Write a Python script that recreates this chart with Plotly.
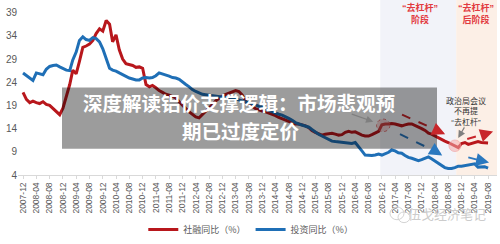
import plotly.graph_objects as go
import pandas as pd

# ---------------- data ----------------
months = pd.date_range("2007-12-01", periods=141, freq="MS")

shrong = (  # 社融同比（%）
    [21.8]
    + [20.3, 19.6, 19.9, 19.6, 19.4, 19.8, 19.2, 19.0, 18.3, 17.6, 17.0, 18.4]   # 2008
    + [20.8, 23.5, 26.6, 25.8, 28.5, 31.5, 31.8, 32.2, 33.0, 34.5, 35.5, 35.0]   # 2009
    + [37.3, 36.5, 32.7, 34.2, 31.0, 29.0, 28.0, 27.8, 27.6, 27.2, 27.3, 27.0]   # 2010
    + [23.5, 23.0, 23.3, 22.8, 22.2, 21.8, 21.4, 21.2, 20.9, 20.6, 19.8, 19.0]   # 2011
    + [18.3, 17.6, 17.0, 16.5, 16.3, 17.0, 17.6, 18.3, 19.2, 20.0, 20.6, 21.0]   # 2012
    + [21.4, 21.7, 22.0, 22.2, 22.0, 21.2, 19.8, 19.2, 18.8, 18.3, 18.0, 17.8]   # 2013
    + [17.6, 17.3, 17.2, 16.8, 16.4, 16.1, 15.8, 15.5, 15.2, 15.0, 15.0, 14.8]   # 2014
    + [14.6, 14.2, 13.6, 13.2, 12.9, 12.6, 12.8, 12.9, 13.0, 12.8, 12.6, 12.7]   # 2015
    + [13.2, 13.4, 13.2, 13.3, 12.9, 12.6, 12.4, 12.4, 12.7, 13.0, 13.4, 14.8]   # 2016
    + [15.0, 15.0, 15.1, 15.0, 14.8, 14.6, 14.8, 15.0, 15.0, 14.7, 14.4, 14.0]   # 2017
    + [13.6, 13.0, 12.8, 12.4, 12.0, 11.7, 11.3, 11.0, 10.6, 10.3, 9.9, 10.8]    # 2018
    + [11.0, 10.6, 10.8, 11.1, 11.2, 11.0, 10.9, 10.9]                           # 2019
)

touzi = (  # 投资同比（%）
    [26.0]
    + [25.4, 24.8, 24.4, 26.0, 25.8, 25.6, 26.8, 27.4, 27.6, 27.7, 27.3, 26.9]   # 2008
    + [26.6, 26.5, 28.8, 30.5, 33.0, 33.8, 33.2, 33.0, 33.6, 33.4, 32.7, 31.2]   # 2009
    + [29.0, 27.0, 26.6, 26.4, 26.0, 25.6, 25.3, 24.9, 24.7, 24.5, 24.5, 24.9]   # 2010
    + [25.0, 24.9, 25.0, 25.4, 26.0, 25.8, 25.5, 25.3, 25.0, 24.9, 24.6, 24.0]   # 2011
    + [23.5, 23.0, 22.4, 22.0, 21.7, 21.4, 21.3, 21.2, 21.1, 21.0, 20.9, 20.8]   # 2012
    + [20.8, 20.7, 20.6, 20.4, 20.2, 20.0, 19.8, 19.6, 19.3, 19.1, 18.8, 18.6]   # 2013
    + [18.2, 17.9, 17.6, 17.3, 17.1, 16.9, 16.6, 16.2, 15.8, 15.3, 15.0, 14.8]   # 2014
    + [14.6, 14.3, 13.8, 13.2, 12.8, 12.4, 12.0, 11.6, 11.3, 11.2, 11.1, 11.0]   # 2015
    + [11.0, 10.8, 10.8, 11.0, 10.2, 9.2, 8.3, 8.2, 8.2, 8.3, 8.5, 8.3]          # 2016
    + [8.6, 8.9, 9.4, 9.2, 8.8, 8.7, 8.2, 7.8, 7.6, 7.4, 7.1, 7.3]               # 2017
    + [7.6, 7.9, 7.5, 7.0, 6.4, 6.0, 5.6, 5.4, 5.4, 5.6, 5.9, 5.9]               # 2018
    + [6.0, 6.1, 6.3, 6.4, 5.7, 5.8, 5.8, 5.5]                                   # 2019
)

series_names = ["社融同比（%）", "投资同比（%）"]
y_ticks = [4, 9, 14, 19, 24, 29, 34, 39]
title_lines = ["深度解读铝价支撑逻辑：市场悲观预", "期已过度定价"]

RED = "#b8171c"
BLUE = "#1f6fb6"
ANN_RED = "#e23a3f"


def mdate(m):
    """fractional month offset from 2007-12 -> timestamp"""
    total = 2007 * 12 + 11 + m
    yr = int(total // 12)
    mo = total - yr * 12
    base = pd.Timestamp(year=yr, month=int(mo) + 1, day=1)
    return (base + pd.Timedelta(days=(mo - int(mo)) * 30.4)).strftime("%Y-%m-%d %H:%M")


def px(xp, yp):
    """pixel position in the page -> paper coordinates (plot area 18..497 x 0..180)"""
    return (xp - 18) / 479, 1 - yp / 180


fig = go.Figure()
fig.add_trace(go.Scatter(x=months, y=shrong, mode="lines", name=series_names[0],
                         line=dict(color=RED, width=3)))
fig.add_trace(go.Scatter(x=months, y=touzi, mode="lines", name=series_names[1],
                         line=dict(color=BLUE, width=3)))

ov_x0, ov_y1 = px(62, 90)
ov_x1, ov_y0 = px(437, 153)
wc1x0, wc1y1 = px(390, 213)
wc1x1, wc1y0 = px(404, 226)
wc2x0, wc2y1 = px(398, 218)
wc2x1, wc2y0 = px(410, 229)

shapes = [
    # phase bands
    dict(type="rect", xref="x", yref="paper", x0=mdate(107.5), x1=mdate(130.4), y0=0, y1=1,
         fillcolor="#f2f3f9", line=dict(width=0), layer="below"),
    dict(type="rect", xref="x", yref="paper", x0=mdate(130.4), x1="2019-10-22", y0=0, y1=1,
         fillcolor="#fcefe6", line=dict(width=0), layer="below"),
    # highlight circles
    dict(type="circle", xref="x", yref="y", x0=mdate(106.4), x1=mdate(110.4), y0=13.35, y1=16.05,
         fillcolor="rgba(240,150,150,0.35)", line=dict(color="rgba(220,90,90,0.8)", width=1, dash="dot")),
    dict(type="circle", xref="x", yref="y", x0=mdate(128.2), x1=mdate(131.8), y0=9.05, y1=11.55,
         fillcolor="rgba(245,170,170,0.55)", line=dict(color="rgba(240,160,160,0.6)", width=1)),
    # dashed trend arrows
    dict(type="line", xref="x", yref="y", x0=mdate(114.1), y0=17.0, x1=mdate(126.6), y1=13.0,
         line=dict(color="#c8262b", width=2, dash="dash")),
    dict(type="line", xref="x", yref="y", x0=mdate(113.5), y0=12.8, x1=mdate(125.8), y1=8.5,
         line=dict(color="#2a78bf", width=2, dash="dash")),
    dict(type="line", xref="x", yref="y", x0=mdate(133.7), y0=11.75, x1=mdate(140.8), y1=13.2,
         line=dict(color="#c8262b", width=2, dash="dash")),
    dict(type="line", xref="x", yref="y", x0=mdate(134.0), y0=7.8, x1=mdate(139.5), y1=6.8,
         line=dict(color="#2a78bf", width=2, dash="dash")),
    # grey title overlay
    dict(type="rect", xref="paper", yref="paper", x0=ov_x0, x1=ov_x1, y0=ov_y0, y1=ov_y1,
         fillcolor="rgba(0,0,0,0.39)", line=dict(width=0), layer="above"),
    # watermark icon
    dict(type="circle", xref="paper", yref="paper", x0=wc1x0, x1=wc1x1, y0=wc1y0, y1=wc1y1,
         line=dict(color="#d4d4d4", width=1)),
    dict(type="circle", xref="paper", yref="paper", x0=wc2x0, x1=wc2x1, y0=wc2y0, y1=wc2y1,
         line=dict(color="#d4d4d4", width=1)),
]


def label(xp, yp, text, size, color, family=None):
    x, y = px(xp, yp)
    f = dict(size=size, color=color)
    if family:
        f["family"] = family
    return dict(x=x, y=y, xref="paper", yref="paper", xanchor="center", yanchor="middle",
                showarrow=False, text=text, align="center", font=f, borderpad=0)


annotations = [
    # arrowheads of dashed arrows
    dict(x=mdate(127.1), y=12.8, xref="x", yref="y", ax=-9, ay=-4, showarrow=True, text="",
         arrowhead=2, arrowsize=1.3, arrowwidth=2, arrowcolor="#c8262b"),
    dict(x=mdate(126.2), y=8.2, xref="x", yref="y", ax=-8, ay=-5, showarrow=True, text="",
         arrowhead=2, arrowsize=1.3, arrowwidth=2, arrowcolor="#2a78bf"),
    dict(x=mdate(141.5), y=13.4, xref="x", yref="y", ax=-9, ay=3, showarrow=True, text="",
         arrowhead=2, arrowsize=1.3, arrowwidth=2, arrowcolor="#c8262b"),
    dict(x=mdate(140.3), y=6.7, xref="x", yref="y", ax=-9, ay=-2, showarrow=True, text="",
         arrowhead=2, arrowsize=1.3, arrowwidth=2, arrowcolor="#2a78bf"),
    # grey pointer arrows
    dict(x=mdate(105.4), y=15.5, xref="x", yref="y", ax=-23, ay=-8, showarrow=True, text="",
         arrowhead=2, arrowsize=1.2, arrowwidth=1.2, arrowcolor="#7f7f7f"),
    dict(x=mdate(131.0), y=12.0, xref="x", yref="y", ax=7, ay=-12, showarrow=True, text="",
         arrowhead=2, arrowsize=1.2, arrowwidth=1.2, arrowcolor="#7f7f7f"),
    # phase labels
    label(420, 14, "<b>“去杠杆”<br>阶段</b>", 9, ANN_RED),
    label(476, 14, "<b>“去杠杆”<br>后阶段</b>", 9, ANN_RED),
    label(466, 115, "政治局会议<br>不再提<br>“去杠杆”", 8, "#333333"),
    # overlay title (two lines)
    label(239, 105, "<b>" + title_lines[0] + "</b>", 19.5, "white", "Noto Sans CJK SC"),
    label(241, 134, "<b>" + title_lines[1] + "</b>", 19.5, "white", "Noto Sans CJK SC"),
    # watermark
    label(447, 220, "伍戈经济笔记", 13, "#cccccc", "Noto Sans CJK SC"),
]

fig.update_layout(
    width=500, height=244,
    margin=dict(l=18, r=3, t=0, b=64),
    paper_bgcolor="white", plot_bgcolor="white",
    font=dict(family="Liberation Sans, Noto Sans CJK SC", color="#595959"),
    shapes=shapes, annotations=annotations,
    legend=dict(orientation="h", x=0.486, xanchor="center", y=-0.311, yanchor="middle",
                font=dict(size=9, color="#595959", family="Noto Sans CJK SC"),
                itemwidth=30, bgcolor="rgba(0,0,0,0)"),
    xaxis=dict(type="date", range=["2007-10-16", "2019-10-22"], tick0="2007-12-01", dtick="M4",
               tickformat="%Y-%m", tickangle=-90, tickfont=dict(size=8.5, color="#595959"),
               showgrid=False, showline=True, linecolor="#d9d9d9", linewidth=1,
               ticks="outside", ticklen=3, tickcolor="#d9d9d9", zeroline=False, automargin=False),
    yaxis=dict(range=[4, 41.72], tickvals=y_ticks, tickfont=dict(size=10, color="#595959"),
               showgrid=False, showline=False, zeroline=False, ticks="", automargin=False),
)

fig.write_html("out.html")
